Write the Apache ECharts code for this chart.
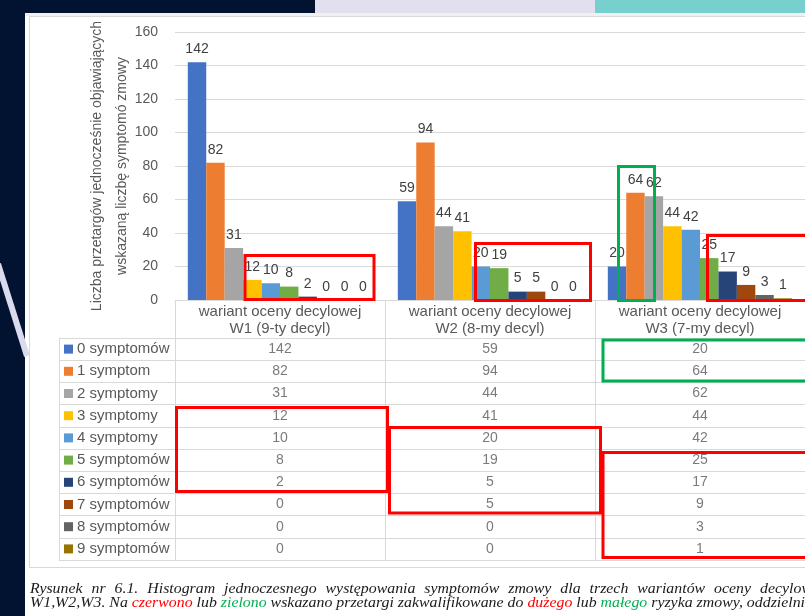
<!DOCTYPE html>
<html>
<head>
<meta charset="utf-8">
<script src="https://cdn.jsdelivr.net/npm/echarts@6/dist/echarts.min.js"></script>
<style>
  html, body { margin: 0; padding: 0; background: #ffffff; }
  #chart { width: 805px; height: 616px; }
</style>
</head>
<body>
<div id="chart"></div>
<script>
// ---- data ----
const variantKeys = ['W1', 'W2', 'W3'];
const variantLabels = [
  'wariant oceny decylowej\nW1 (9-ty decyl)',
  'wariant oceny decylowej\nW2 (8-my decyl)',
  'wariant oceny decylowej\nW3 (7-my decyl)'
];
const symptomNames = ['0 symptomów', '1 symptom', '2 symptomy', '3 symptomy', '4 symptomy',
  '5 symptomów', '6 symptomów', '7 symptomów', '8 symptomów', '9 symptomów'];
const countsW1 = [142, 82, 31, 12, 10, 8, 2, 0, 0, 0];
const countsW2 = [59, 94, 44, 41, 20, 19, 5, 5, 0, 0];
const countsW3 = [20, 64, 62, 44, 42, 25, 17, 9, 3, 1];
const yAxisMin = 0;
const yAxisMax = 160;
const yAxisStep = 20;
const yAxisTitle = 'Liczba przetargów jednocześnie objawiających\nwskazaną liczbę symptomó zmowy';

// caption words, line by line
const captionLine1 = ['Rysunek', 'nr', '6.1.', 'Histogram', 'jednoczesnego', 'występowania',
  'symptomów', 'zmowy', 'dla', 'trzech', 'wariantów', 'oceny', 'decylowej'];
const captionLine2 = ['W1,W2,W3.', 'Na', 'czerwono', 'lub', 'zielono', 'wskazano', 'przetargi',
  'zakwalifikowane', 'do', 'dużego', 'lub', 'małego', 'ryzyka', 'zmowy,', 'oddzielnie'];

// ---- styling / layout ----
const seriesColors = ['#4472C4', '#ED7D31', '#A5A5A5', '#FFC000', '#5B9BD5',
  '#70AD47', '#264478', '#9E480E', '#636363', '#997300'];
const FONT = 'Liberation Sans';
const CAPTION_FONT = 'italic 14px "Liberation Serif"';
const TXT = '#595959';
const LINE = '#d9d9d9';
const RED = '#FF0000';
const GREEN = '#00B050';

const PLOT_LEFT = 175, PLOT_TOP = 32, PLOT_W = 639, PLOT_H = 268;
const TABLE_TOP = 338, TABLE_H = 222, LEGEND_W = 116;
const CAPTION_LEFT = 30, CAPTION_RIGHT = 805;
const line2Colors = { 2: RED, 4: GREEN, 9: RED, 11: GREEN };

const columns = [countsW1, countsW2, countsW3];

const barSeries = symptomNames.map((name, i) => ({
  type: 'bar',
  name: name,
  xAxisIndex: 0,
  yAxisIndex: 0,
  data: columns.map(col => col[i]),
  itemStyle: { color: seriesColors[i] },
  barGap: '0%',
  barCategoryGap: '12.2%',
  label: {
    show: true, position: 'top', distance: 6,
    color: '#404040', fontSize: 14, fontFamily: FONT
  },
  emphasis: { disabled: true },
  silent: true
}));

const tableCells = [];
columns.forEach((col, c) => col.forEach((v, r) => tableCells.push([c, r, v])));

const tableSeries = {
  type: 'scatter',
  xAxisIndex: 1,
  yAxisIndex: 1,
  data: tableCells,
  symbol: 'rect',
  symbolSize: 1,
  itemStyle: { color: 'rgba(255,255,255,0)' },
  label: {
    show: true, position: 'inside',
    formatter: p => String(p.value[2]),
    color: TXT, fontSize: 14, fontFamily: FONT
  },
  emphasis: { disabled: true },
  silent: true
};

const legendRich = { t: { color: TXT, fontSize: 15, fontFamily: FONT, padding: [0, 0, 0, 4] } };
seriesColors.forEach((c, i) => {
  legendRich['s' + i] = { width: 9, height: 9, backgroundColor: c };
});

// highlight frames around the risk groups
const boxes = [
  { x: 245, y: 255.5, width: 129, height: 44, color: RED },
  { x: 475.5, y: 243.5, width: 115, height: 57, color: RED },
  { x: 618.5, y: 166.5, width: 36, height: 134, color: GREEN },
  { x: 707.5, y: 235.5, width: 110, height: 65, color: RED },
  { x: 176.5, y: 407.5, width: 211, height: 84, color: RED },
  { x: 389.5, y: 427.5, width: 211, height: 85.5, color: RED },
  { x: 603, y: 340, width: 210, height: 41, color: GREEN },
  { x: 603, y: 452.5, width: 210, height: 105, color: RED }
];

const graphics = [
  { type: 'rect', z: -10, shape: { x: 0, y: 0, width: 25, height: 616 }, style: { fill: '#011331' } },
  { type: 'rect', z: -10, shape: { x: 0, y: 0, width: 315, height: 13 }, style: { fill: '#011331' } },
  { type: 'rect', z: -10, shape: { x: 315, y: 0, width: 280, height: 13 }, style: { fill: '#e2e0ee' } },
  { type: 'rect', z: -10, shape: { x: 595, y: 0, width: 210, height: 13 }, style: { fill: '#77d0cd' } },
  { type: 'line', z: -9, shape: { x1: -2, y1: 264, x2: 27, y2: 356 }, style: { stroke: '#dcdbee', lineWidth: 6 } },
  { type: 'rect', z: -9, shape: { x: 25, y: 13, width: 780, height: 3 }, style: { fill: '#f0f0f0' } },
  { type: 'rect', z: -8, shape: { x: 29.5, y: 16.5, width: 800, height: 551 }, style: { fill: null, stroke: LINE, lineWidth: 1 } }
];
boxes.forEach(b => graphics.push({
  type: 'rect', z: 50,
  shape: { x: b.x, y: b.y, width: b.width, height: b.height },
  style: { fill: null, stroke: b.color, lineWidth: 3 }
}));

// caption: second line flows with normal spaces and runs to the right edge,
// the first line is justified so that its last word starts at the same place
const ctx = document.createElement('canvas').getContext('2d');
ctx.font = CAPTION_FONT;
const measure = s => ctx.measureText(s).width;
const line2Text = captionLine2.join(' ');
const line2Visible = line2Text.slice(0, line2Text.length - 1);
const capScale = (CAPTION_RIGHT - CAPTION_LEFT) / measure(line2Visible);
const spaceW = measure(' ') * capScale;

let cx = CAPTION_LEFT;
captionLine2.forEach((w, i) => {
  graphics.push({
    type: 'text', z: 50, x: cx, y: 603, scaleX: capScale,
    style: { text: w, fill: line2Colors[i] || '#1a1a1a', font: CAPTION_FONT, verticalAlign: 'middle' }
  });
  cx += measure(w) * capScale + spaceW;
});

const LAST_WORD_X = 760;
const w1 = captionLine1.map(w => measure(w) * capScale);
const sumBefore = w1.slice(0, -1).reduce((a, b) => a + b, 0);
const gap1 = (LAST_WORD_X - CAPTION_LEFT - sumBefore) / (captionLine1.length - 1);
cx = CAPTION_LEFT;
captionLine1.forEach((w, i) => {
  graphics.push({
    type: 'text', z: 50, x: cx, y: 589, scaleX: capScale,
    style: { text: w, fill: '#1a1a1a', font: CAPTION_FONT, verticalAlign: 'middle' }
  });
  cx += w1[i] + gap1;
});

const option = {
  animation: false,
  backgroundColor: '#ffffff',
  textStyle: { fontFamily: FONT },
  grid: [
    { left: PLOT_LEFT, top: PLOT_TOP, width: PLOT_W, height: PLOT_H, containLabel: false },
    { left: PLOT_LEFT, top: TABLE_TOP, width: PLOT_W, height: TABLE_H, containLabel: false }
  ],
  xAxis: [
    {
      type: 'category', gridIndex: 0, data: variantKeys,
      axisLine: { show: true, lineStyle: { color: LINE, width: 1 } },
      axisTick: { show: true, length: 38, inside: false, alignWithLabel: false, interval: 0, lineStyle: { color: LINE } },
      axisLabel: {
        show: true, interval: 0, margin: 3,
        formatter: (v, idx) => variantLabels[idx],
        color: TXT, fontSize: 15, lineHeight: 17, fontFamily: FONT
      },
      splitLine: { show: false }
    },
    {
      type: 'category', gridIndex: 1, data: variantKeys,
      axisLine: { show: false }, axisTick: { show: false }, axisLabel: { show: false },
      splitLine: { show: true, interval: 0, lineStyle: { color: LINE, width: 1 } }
    }
  ],
  yAxis: [
    {
      type: 'value', gridIndex: 0, min: yAxisMin, max: yAxisMax, interval: yAxisStep,
      name: yAxisTitle, nameLocation: 'middle', nameGap: 40, nameRotate: 90,
      nameMoveOverlap: false,
      nameTextStyle: { color: TXT, fontSize: 14, lineHeight: 25, fontFamily: FONT },
      axisLine: { show: false }, axisTick: { show: false },
      axisLabel: { color: TXT, fontSize: 14, margin: 17, fontFamily: FONT },
      splitLine: { show: true, lineStyle: { color: LINE, width: 1 } }
    },
    {
      type: 'category', gridIndex: 1, data: symptomNames, inverse: true,
      axisLine: { show: true, lineStyle: { color: LINE } },
      axisTick: { show: true, length: LEGEND_W, inside: false, alignWithLabel: false, interval: 0, lineStyle: { color: LINE } },
      axisLabel: {
        show: true, interval: 0, align: 'left', margin: 111,
        formatter: (v, idx) => '{s' + idx + '| }{t|' + v + '}',
        rich: legendRich
      },
      splitLine: { show: true, interval: 0, lineStyle: { color: LINE, width: 1 } }
    },
    {
      type: 'category', gridIndex: 1, data: symptomNames, inverse: true,
      position: 'left', offset: LEGEND_W,
      axisLine: { show: true, lineStyle: { color: LINE } },
      axisTick: { show: false }, axisLabel: { show: false }, splitLine: { show: false }
    }
  ],
  series: barSeries.concat([tableSeries]),
  graphic: graphics
};

const chart = echarts.init(document.getElementById('chart'), null, { renderer: 'canvas' });
chart.setOption(option);
</script>
</body>
</html>
